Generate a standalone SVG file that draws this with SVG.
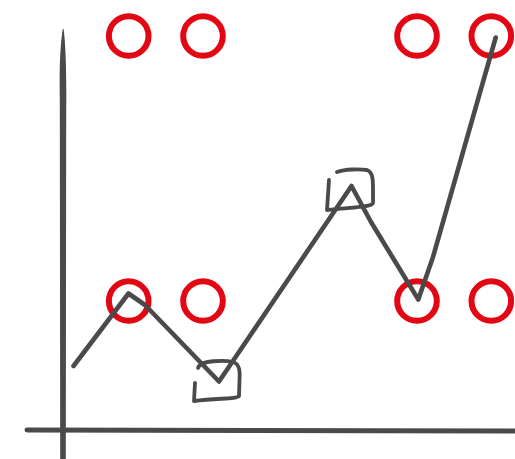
<svg xmlns="http://www.w3.org/2000/svg" width="515" height="459" viewBox="0 0 515 459">
<style>
.ring{fill:none;stroke:#e30613;stroke-width:6}
.ink{fill:none;stroke:#4a4a4a;stroke-linecap:round;stroke-linejoin:round}
</style>
<rect width="515" height="459" fill="#fff"/>
<g id="axes">
<path d="M62.8,29 C60.5,42 59.2,65 59.8,100 L60.2,459 L65.8,459 L66.2,112 C66.8,72 65.5,42 63.6,29 Z" fill="#4a4a4a"/>
<path class="ink" d="M27,430 L515,431" stroke-width="5"/>
</g>
<g id="markers">
<circle id="c1" class="ring" cx="128.7" cy="36" r="19.8"/>
<circle id="c2" class="ring" cx="203" cy="36" r="19.8"/>
<circle id="c3" class="ring" cx="417" cy="36" r="19.8"/>
<circle id="c4" class="ring" cx="491.3" cy="36" r="19.8"/>
<circle id="c5" class="ring" cx="128.7" cy="301" r="19.8"/>
<circle id="c6" class="ring" cx="203" cy="301" r="19.8"/>
<circle id="c7" class="ring" cx="417" cy="301" r="19.8"/>
<circle id="c8" class="ring" cx="491.3" cy="301" r="19.8"/>
</g>
<g id="boxes">
<path class="ink" stroke-width="3.8" d="M198,368 C200,360 225,360 233,362 C240,364 240,372 239.5,380 L239,396 C237,399 220,398 194,401 L195,383"/>
<path class="ink" stroke-width="3.8" d="M337,172 C345,169 360,169 367,170 C373,172 373,180 373,190 L373,203 C372,207 355,207 327,210 L329,180"/>
</g>
<g id="line">
<polyline class="ink" stroke-width="4.6" points="73.5,366 128.5,293.5 145,305 219,381.5 351.5,186 371,222 418.3,299.5 433,257 495.7,37.5"/>
</g>
</svg>
